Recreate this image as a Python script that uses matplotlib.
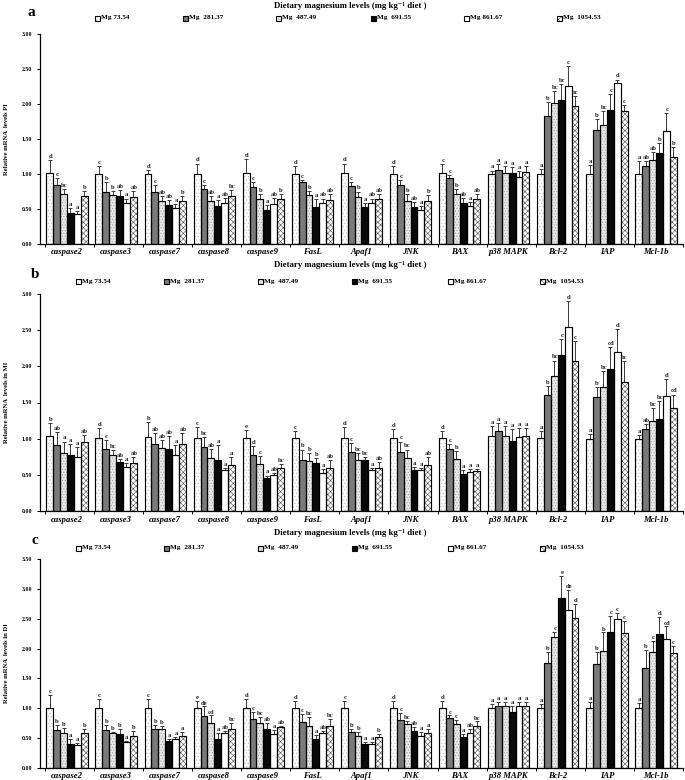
import numpy as np
import matplotlib
matplotlib.use("Agg")
import matplotlib.pyplot as plt
from matplotlib.patches import Rectangle
import matplotlib.transforms as mtransforms

# ---------------- data ----------------
genes = ["caspase2", "caspase3", "caspase7", "caspase8", "caspase9", "FasL",
         "Apaf1", "JNK", "BAX", "p38 MAPK", "Bcl-2", "IAP", "Mcl-1b"]
mg_labels = ["Mg 73.54", "Mg  281.37", "Mg  487.49", "Mg  691.55", "Mg 861.67", "Mg  1054.53"]

# Panel a (PI) - rows: genes, cols: Mg levels
pi_means = [
    [1.01, 0.84, 0.72, 0.45, 0.43, 0.69],
    [1.00, 0.75, 0.70, 0.68, 0.58, 0.67],
    [1.00, 0.74, 0.61, 0.56, 0.52, 0.62],
    [1.00, 0.79, 0.61, 0.55, 0.59, 0.69],
    [1.01, 0.81, 0.64, 0.49, 0.57, 0.64],
    [1.00, 0.88, 0.70, 0.53, 0.58, 0.63],
    [1.01, 0.83, 0.67, 0.53, 0.58, 0.64],
    [1.00, 0.85, 0.62, 0.53, 0.49, 0.61],
    [1.01, 0.94, 0.71, 0.59, 0.55, 0.64],
    [1.00, 1.06, 1.02, 1.01, 0.96, 1.03],
    [1.00, 1.83, 2.01, 2.06, 2.26, 1.97],
    [1.00, 1.63, 1.70, 1.92, 2.30, 1.90],
    [1.00, 1.11, 1.20, 1.30, 1.61, 1.24],
]
pi_errs = [
    [0.19, 0.10, 0.06, 0.06, 0.04, 0.07],
    [0.11, 0.13, 0.06, 0.09, 0.07, 0.09],
    [0.06, 0.10, 0.08, 0.07, 0.05, 0.07],
    [0.15, 0.05, 0.08, 0.08, 0.07, 0.08],
    [0.21, 0.07, 0.08, 0.07, 0.09, 0.08],
    [0.12, 0.03, 0.06, 0.11, 0.07, 0.09],
    [0.14, 0.05, 0.08, 0.05, 0.07, 0.07],
    [0.11, 0.07, 0.09, 0.07, 0.05, 0.09],
    [0.13, 0.04, 0.08, 0.07, 0.05, 0.08],
    [0.05, 0.08, 0.10, 0.09, 0.08, 0.08],
    [0.07, 0.20, 0.18, 0.22, 0.28, 0.14],
    [0.13, 0.15, 0.20, 0.22, 0.05, 0.08],
    [0.18, 0.08, 0.12, 0.14, 0.26, 0.14],
]
pi_letters = [
    ["d", "c", "bc", "a", "a", "b"],
    ["c", "b", "b", "ab", "a", "ab"],
    ["d", "c", "ab", "ab", "a", "b"],
    ["d", "c", "ab", "a", "ab", "bc"],
    ["d", "c", "b", "a", "ab", "b"],
    ["d", "c", "b", "a", "ab", "ab"],
    ["d", "c", "b", "a", "ab", "ab"],
    ["d", "c", "b", "ab", "a", "b"],
    ["c", "c", "b", "ab", "a", "ab"],
    ["a", "a", "a", "a", "a", "a"],
    ["a", "b", "bc", "bc", "c", "bc"],
    ["a", "b", "bc", "c", "d", "c"],
    ["a", "ab", "ab", "b", "c", "b"],
]

# Panel b (MI)
mi_means = [
    [1.03, 0.91, 0.80, 0.77, 0.74, 0.95],
    [1.01, 0.86, 0.77, 0.68, 0.61, 0.66],
    [1.02, 0.92, 0.87, 0.86, 0.77, 0.93],
    [1.01, 0.88, 0.73, 0.70, 0.56, 0.64],
    [1.01, 0.78, 0.65, 0.46, 0.50, 0.59],
    [1.01, 0.71, 0.69, 0.66, 0.53, 0.60],
    [1.01, 0.81, 0.70, 0.70, 0.56, 0.59],
    [1.01, 0.81, 0.73, 0.56, 0.56, 0.63],
    [1.01, 0.86, 0.72, 0.51, 0.54, 0.55],
    [1.03, 1.10, 1.04, 0.97, 1.02, 1.03],
    [1.01, 1.60, 1.87, 2.16, 2.55, 2.08],
    [1.00, 1.58, 1.72, 1.96, 2.20, 1.78],
    [1.00, 1.14, 1.25, 1.27, 1.59, 1.42],
]
mi_errs = [
    [0.18, 0.18, 0.16, 0.15, 0.14, 0.10],
    [0.14, 0.12, 0.07, 0.04, 0.05, 0.08],
    [0.21, 0.16, 0.11, 0.17, 0.14, 0.15],
    [0.15, 0.14, 0.13, 0.21, 0.04, 0.11],
    [0.11, 0.12, 0.11, 0.03, 0.03, 0.06],
    [0.09, 0.14, 0.11, 0.07, 0.05, 0.10],
    [0.15, 0.13, 0.10, 0.04, 0.03, 0.09],
    [0.12, 0.15, 0.12, 0.05, 0.03, 0.11],
    [0.09, 0.07, 0.11, 0.05, 0.04, 0.03],
    [0.14, 0.12, 0.14, 0.16, 0.13, 0.12],
    [0.09, 0.13, 0.21, 0.22, 0.35, 0.27],
    [0.06, 0.13, 0.21, 0.31, 0.32, 0.29],
    [0.05, 0.06, 0.17, 0.25, 0.23, 0.19],
]
mi_letters = [
    ["b", "ab", "a", "a", "a", "ab"],
    ["d", "c", "bc", "ab", "a", "ab"],
    ["b", "ab", "ab", "ab", "a", "ab"],
    ["c", "bc", "ab", "a", "a", "a"],
    ["e", "d", "c", "a", "ab", "bc"],
    ["c", "b", "b", "b", "a", "ab"],
    ["d", "c", "bc", "bc", "a", "ab"],
    ["d", "c", "bc", "a", "a", "ab"],
    ["d", "c", "b", "a", "a", "a"],
    ["a", "a", "a", "a", "a", "a"],
    ["a", "b", "bc", "c", "d", "c"],
    ["a", "b", "bc", "cd", "d", "bc"],
    ["a", "ab", "bc", "bc", "d", "cd"],
]

# Panel c (DI)
di_means = [
    [1.01, 0.63, 0.58, 0.41, 0.39, 0.59],
    [1.01, 0.64, 0.59, 0.57, 0.43, 0.54],
    [1.01, 0.65, 0.65, 0.45, 0.48, 0.53],
    [1.01, 0.87, 0.76, 0.48, 0.59, 0.66],
    [1.01, 0.82, 0.76, 0.65, 0.57, 0.69],
    [1.01, 0.77, 0.70, 0.49, 0.58, 0.70],
    [1.01, 0.60, 0.54, 0.40, 0.40, 0.52],
    [1.01, 0.81, 0.73, 0.62, 0.54, 0.59],
    [1.01, 0.83, 0.73, 0.52, 0.58, 0.70],
    [1.01, 1.03, 1.03, 0.94, 1.03, 1.04],
    [1.01, 1.76, 2.20, 2.85, 2.65, 2.51],
    [1.01, 1.74, 1.96, 2.28, 2.50, 2.26],
    [1.01, 1.67, 1.94, 2.24, 2.16, 1.92],
]
di_errs = [
    [0.21, 0.09, 0.09, 0.07, 0.03, 0.07],
    [0.14, 0.08, 0.02, 0.09, 0.03, 0.08],
    [0.14, 0.07, 0.05, 0.03, 0.04, 0.07],
    [0.11, 0.16, 0.12, 0.11, 0.03, 0.10],
    [0.14, 0.12, 0.09, 0.10, 0.06, 0.02],
    [0.12, 0.13, 0.15, 0.07, 0.04, 0.12],
    [0.12, 0.06, 0.06, 0.04, 0.03, 0.05],
    [0.11, 0.11, 0.06, 0.06, 0.06, 0.07],
    [0.11, 0.05, 0.08, 0.05, 0.07, 0.08],
    [0.07, 0.07, 0.07, 0.10, 0.07, 0.07],
    [0.07, 0.19, 0.08, 0.37, 0.33, 0.24],
    [0.09, 0.21, 0.31, 0.27, 0.10, 0.20],
    [0.08, 0.30, 0.19, 0.29, 0.21, 0.12],
]
di_letters = [
    ["c", "b", "b", "a", "a", "b"],
    ["c", "b", "b", "b", "a", "b"],
    ["c", "b", "b", "a", "a", "a"],
    ["e", "de", "cd", "a", "ab", "bc"],
    ["d", "c", "bc", "ab", "a", "ab"],
    ["d", "c", "bc", "a", "ab", "bc"],
    ["c", "b", "b", "a", "a", "b"],
    ["d", "c", "bc", "ab", "a", "a"],
    ["d", "c", "c", "a", "ab", "bc"],
    ["a", "a", "a", "a", "a", "a"],
    ["a", "b", "c", "e", "de", "d"],
    ["a", "b", "b", "c", "c", "c"],
    ["a", "b", "c", "d", "cd", "c"],
]

# ---------------- styles ----------------
SERIF = ["Liberation Serif", "DejaVu Serif"]
plt.rcParams["font.family"] = SERIF
plt.rcParams["hatch.linewidth"] = 0.4

# facecolor, hatch, hatch colour
styles = [
    ("white", ".....", "#bdbdbd"),
    ("#7a7a7a", None, None),
    ("#e8e8e8", "......", "#9c9c9c"),
    ("#0a0a0a", None, None),
    ("white", None, None),
    ("white", "xxxxxx", "#505050"),
]

W, H = 685, 780
fig = plt.figure(figsize=(W / 100, H / 100), dpi=100)


def px_axes(left, right, top, bottom):
    return fig.add_axes([left / W, 1 - bottom / H, (right - left) / W, (bottom - top) / H])


def fig_xy(x, y):
    return x / W, 1 - y / H


panels = [
    dict(means=pi_means, errs=pi_errs, letters=pi_letters, ymax=3.0,
         top=34, bottom=244, ylabel="Relative mRNA  levels PI", tag="a",
         tag_xy=(31, 13), title_y=6, leg_y=18, leg_x=[95, 183, 276, 371, 464, 557]),
    dict(means=mi_means, errs=mi_errs, letters=mi_letters, ymax=3.0,
         top=294, bottom=511, ylabel="Relative mRNA  levels in MI", tag="b",
         tag_xy=(35, 274), title_y=265, leg_y=281, leg_x=[76, 164, 258, 352, 448, 540]),
    dict(means=di_means, errs=di_errs, letters=di_letters, ymax=3.5,
         top=559, bottom=768, ylabel="Relative mRNA  levels in DI", tag="c",
         tag_xy=(35, 540), title_y=533, leg_y=548, leg_x=[76, 164, 258, 352, 448, 540]),
]

ng = len(genes)
ns = len(mg_labels)
bw = 0.14
xc = np.arange(ng)

for p in panels:
    ax = px_axes(40, 683, p["top"], p["bottom"])
    means = np.array(p["means"])
    errs = np.array(p["errs"])
    for j in range(ns):
        x = xc + (j - (ns - 1) / 2) * bw
        fc, hatch, hc = styles[j]
        if hatch:
            ax.bar(x, means[:, j], width=bw, color=fc, hatch=hatch,
                   edgecolor=hc, linewidth=0, zorder=2)
        else:
            ax.bar(x, means[:, j], width=bw, color=fc, linewidth=0, zorder=2)
        ax.bar(x, means[:, j], width=bw, fill=False, edgecolor="black",
               linewidth=0.85, zorder=3)
        ax.errorbar(x, means[:, j], yerr=[np.zeros(ng), errs[:, j]], fmt="none",
                    ecolor="#3a3a3a", elinewidth=0.7, capsize=1.4, capthick=0.7, zorder=1)
        for i in range(ng):
            ax.text(x[i] + 0.01, means[i, j] + errs[i, j] + 0.015, p["letters"][i][j],
                    ha="center", va="bottom", fontsize=4.8, fontweight="bold",
                    color="#222222")
    ax.set_xlim(-0.55, ng - 0.45)
    ax.set_ylim(0, p["ymax"])
    ax.set_yticks(np.arange(0, p["ymax"] + 0.01, 0.5))
    ax.set_yticklabels(["%.2f" % v for v in np.arange(0, p["ymax"] + 0.01, 0.5)],
                       fontsize=4.2, fontweight="bold")
    ax.set_xticks(np.arange(-0.5, ng, 1.0) + 0.05)
    ax.set_xticklabels([])
    ax.tick_params(axis="x", direction="out", length=2.5, width=0.7)
    ax.tick_params(axis="y", direction="out", length=2.5, width=0.7, pad=3)
    for s in ["top", "right"]:
        ax.spines[s].set_visible(False)
    for s in ["left", "bottom"]:
        ax.spines[s].set_linewidth(0.9)
    trans = mtransforms.blended_transform_factory(ax.transData, ax.transAxes)
    for i, g in enumerate(genes):
        ax.text(i, -0.04, g, transform=trans, ha="center", va="center",
                fontsize=6.2, fontweight="bold", fontstyle="italic")
    ax.set_ylabel(p["ylabel"], fontsize=4.8, fontweight="bold", labelpad=9)
    ax.patch.set_visible(False)

    # panel tag, title, legend
    tx, ty = fig_xy(*p["tag_xy"])
    fig.text(tx, ty, p["tag"], fontsize=11, fontweight="bold", ha="center", va="center")
    tx, ty = fig_xy(350, p["title_y"])
    fig.text(tx, ty, "Dietary magnesium levels (mg kg\u207b\u00b9 diet )", fontsize=6.3,
             fontweight="bold", ha="center", va="center", family=SERIF)
    for j, lab in enumerate(mg_labels):
        lx = p["leg_x"][j]
        fc, hatch, hc = styles[j]
        x0, y0 = fig_xy(lx, p["leg_y"] + 2.5)
        sw, sh = 5 / W, 5 / H
        if hatch:
            fig.add_artist(Rectangle((x0, y0), sw, sh, transform=fig.transFigure,
                                     facecolor=fc, hatch=hatch, edgecolor=hc, linewidth=0))
        else:
            fig.add_artist(Rectangle((x0, y0), sw, sh, transform=fig.transFigure,
                                     facecolor=fc, linewidth=0))
        fig.add_artist(Rectangle((x0, y0), sw, sh, transform=fig.transFigure,
                                 fill=False, edgecolor="black", linewidth=0.8))
        tx, ty = fig_xy(lx + 6, p["leg_y"])
        fig.text(tx, ty, lab, fontsize=5.2, fontweight="bold", ha="left", va="center")

fig.savefig("out.png", dpi=100)
